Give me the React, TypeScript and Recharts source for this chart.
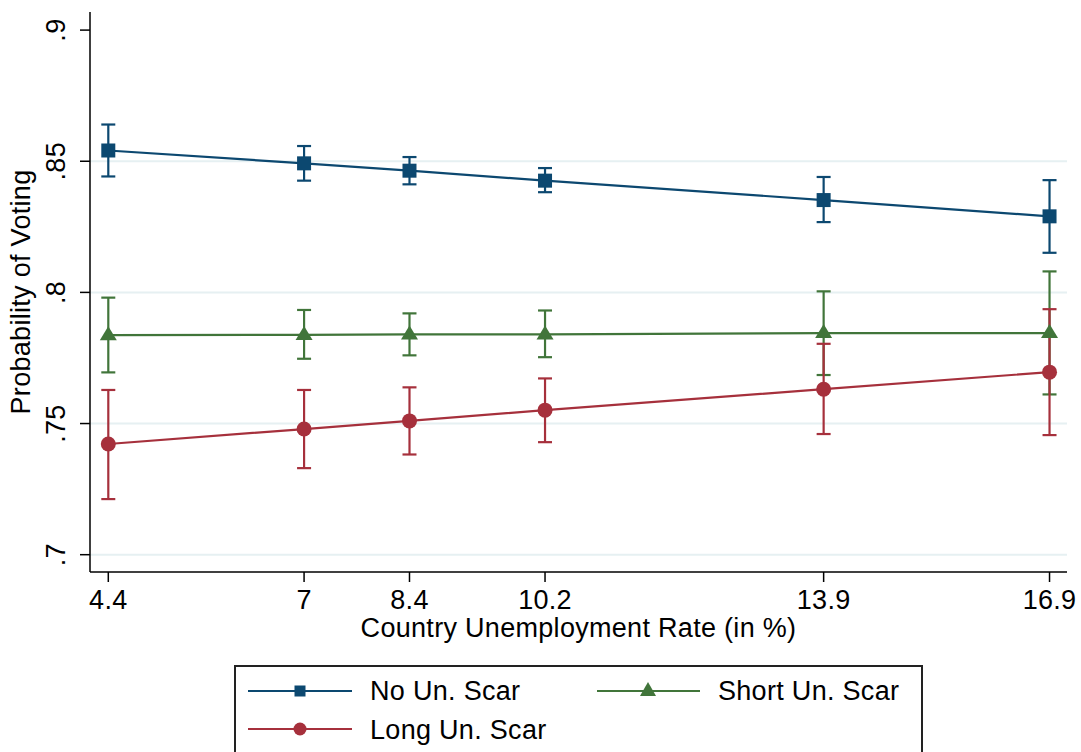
import React from "react";
import {
  ComposedChart,
  Line,
  ErrorBar,
  XAxis,
  YAxis,
  CartesianGrid,
} from "recharts";

const rates = [4.4, 7, 8.4, 10.2, 13.9, 16.9];

const noScar = [0.8541, 0.8492, 0.8464, 0.8426, 0.8352, 0.829];
const noScarLo = [0.8442, 0.8426, 0.8412, 0.8382, 0.8268, 0.8151];
const noScarHi = [0.864, 0.8558, 0.8516, 0.8474, 0.844, 0.8428];

const shortScar = [0.7837, 0.7838, 0.784, 0.784, 0.7845, 0.7845];
const shortScarLo = [0.7695, 0.7747, 0.776, 0.7753, 0.7685, 0.7611];
const shortScarHi = [0.798, 0.7933, 0.792, 0.7931, 0.8004, 0.808];

const longScar = [0.7422, 0.7479, 0.751, 0.7551, 0.7631, 0.7696];
const longScarLo = [0.7212, 0.733, 0.7382, 0.7429, 0.746, 0.7456];
const longScarHi = [0.7628, 0.7628, 0.7638, 0.7672, 0.7804, 0.7936];

const yTicks = [0.7, 0.75, 0.8, 0.85, 0.9];
const gridValues = [0.7, 0.75, 0.8, 0.85];

const NAVY = "#0c4870";
const GREEN = "#41753a";
const RED = "#a6303c";
const FONT = "'Liberation Sans', Arial, sans-serif";
const FS = 27;
const LS = 0.3;

const data = rates.map((r, i) => ({
  rate: r,
  no: noScar[i],
  noErr: [noScar[i] - noScarLo[i], noScarHi[i] - noScar[i]],
  short: shortScar[i],
  shortErr: [shortScar[i] - shortScarLo[i], shortScarHi[i] - shortScar[i]],
  long: longScar[i],
  longErr: [longScar[i] - longScarLo[i], longScarHi[i] - longScar[i]],
}));

const fmtY = (v: number) => String(v).replace(/^0/, "");

const square = (color: string, s: number) => (props: any) => {
  const { cx, cy, index } = props;
  return <rect key={`sq-${index}`} x={cx - s / 2} y={cy - s / 2} width={s} height={s} fill={color} />;
};

const circle = (color: string, r: number) => (props: any) => {
  const { cx, cy, index } = props;
  return <circle key={`ci-${index}`} cx={cx} cy={cy} r={r} fill={color} />;
};

const triangle = (color: string, w: number, h: number) => (props: any) => {
  const { cx, cy, index } = props;
  const top = cy - h * 0.64;
  const bot = cy + h * 0.36;
  return (
    <polygon
      key={`tr-${index}`}
      points={`${cx},${top} ${cx - w / 2},${bot} ${cx + w / 2},${bot}`}
      fill={color}
    />
  );
};

const XTick = (props: any) => {
  const { x, y, payload } = props;
  return (
    <text x={x} y={y + 27} textAnchor="middle" fontSize={FS} letterSpacing={LS} fill="#000" fontFamily={FONT}>
      {payload.value}
    </text>
  );
};

const YTick = (props: any) => {
  const { y, payload } = props;
  return (
    <text
      x={65}
      y={y}
      transform={`rotate(-90, 65, ${y})`}
      textAnchor="middle"
      fontSize={FS}
      letterSpacing={LS}
      fill="#000"
      fontFamily={FONT}
    >
      {fmtY(payload.value)}
    </text>
  );
};

function LegendBox() {
  return (
    <svg
      width={690}
      height={90}
      style={{ position: "absolute", left: 234, top: 665 }}
    >
      <rect x={1} y={1} width={687} height={100} fill="white" stroke="#222" strokeWidth={2} />
      <line x1={14} x2={118} y1={26} y2={26} stroke={NAVY} strokeWidth={2.2} />
      <rect x={60.5} y={20.5} width={11} height={11} fill={NAVY} />
      <text x={136} y={35} fontSize={FS} letterSpacing={LS} fontFamily={FONT} fill="#000">
        No Un. Scar
      </text>
      <line x1={363} x2={466} y1={26} y2={26} stroke={GREEN} strokeWidth={2.2} />
      <polygon points="414,17 406,31 422,31" fill={GREEN} />
      <text x={484} y={35} fontSize={FS} letterSpacing={LS} fontFamily={FONT} fill="#000">
        Short Un. Scar
      </text>
      <line x1={14} x2={118} y1={64} y2={64} stroke={RED} strokeWidth={2.2} />
      <circle cx={66} cy={64} r={6.5} fill={RED} />
      <text x={136} y={74} fontSize={FS} letterSpacing={LS} fontFamily={FONT} fill="#000">
        Long Un. Scar
      </text>
    </svg>
  );
}

export default function App() {
  return (
    <div
      style={{
        position: "absolute",
        left: 0,
        top: 0,
        width: 1081,
        height: 752,
        overflow: "hidden",
        background: "white",
      }}
    >
      <ComposedChart
        width={1081}
        height={752}
        data={data}
        margin={{ top: 12, right: 14, left: 0, bottom: 120 }}
      >
        <CartesianGrid
          horizontal
          vertical={false}
          horizontalValues={gridValues}
          stroke="#e6f0f2"
          strokeWidth={2}
        />
        <XAxis
          dataKey="rate"
          type="number"
          domain={[4.157, 17.132]}
          ticks={rates}
          allowDataOverflow
          height={60}
          tickSize={10}
          tickMargin={0}
          stroke="#000"
          strokeWidth={1.5}
          tick={<XTick />}
          label={{
            content: (p: any) => {
              const vb = p.viewBox;
              return (
                <text
                  x={vb.x + vb.width / 2}
                  y={vb.y + 65}
                  textAnchor="middle"
                  fontSize={FS}
                  letterSpacing={LS}
                  fontFamily={FONT}
                  fill="#000"
                >
                  Country Unemployment Rate (in %)
                </text>
              );
            },
          }}
        />
        <YAxis
          type="number"
          domain={[0.6934, 0.9069]}
          ticks={yTicks}
          allowDataOverflow
          width={90}
          tickSize={10}
          tickMargin={0}
          stroke="#000"
          strokeWidth={1.5}
          tick={<YTick />}
          label={{
            content: (p: any) => {
              const vb = p.viewBox;
              const cy = vb.y + vb.height / 2;
              return (
                <text
                  x={30}
                  y={cy}
                  transform={`rotate(-90, 30, ${cy})`}
                  textAnchor="middle"
                  fontSize={FS}
                  letterSpacing={LS}
                  fontFamily={FONT}
                  fill="#000"
                >
                  Probability of Voting
                </text>
              );
            },
          }}
        />
        {/* confidence caps first, so every marker sits on top */}
        <Line dataKey="no" stroke="none" dot={false} activeDot={false} isAnimationActive={false}>
          <ErrorBar dataKey="noErr" width={7} stroke={NAVY} strokeWidth={2.2} direction="y" />
        </Line>
        <Line dataKey="short" stroke="none" dot={false} activeDot={false} isAnimationActive={false}>
          <ErrorBar dataKey="shortErr" width={7} stroke={GREEN} strokeWidth={2.2} direction="y" />
        </Line>
        <Line dataKey="long" stroke="none" dot={false} activeDot={false} isAnimationActive={false}>
          <ErrorBar dataKey="longErr" width={7} stroke={RED} strokeWidth={2.2} direction="y" />
        </Line>
        <Line
          dataKey="no"
          stroke={NAVY}
          strokeWidth={2.2}
          dot={square(NAVY, 14)}
          activeDot={false}
          isAnimationActive={false}
        />
        <Line
          dataKey="short"
          stroke={GREEN}
          strokeWidth={2.2}
          dot={triangle(GREEN, 17, 14)}
          activeDot={false}
          isAnimationActive={false}
        />
        <Line
          dataKey="long"
          stroke={RED}
          strokeWidth={2.2}
          dot={circle(RED, 7.5)}
          activeDot={false}
          isAnimationActive={false}
        />
      </ComposedChart>
      <LegendBox />
    </div>
  );
}
